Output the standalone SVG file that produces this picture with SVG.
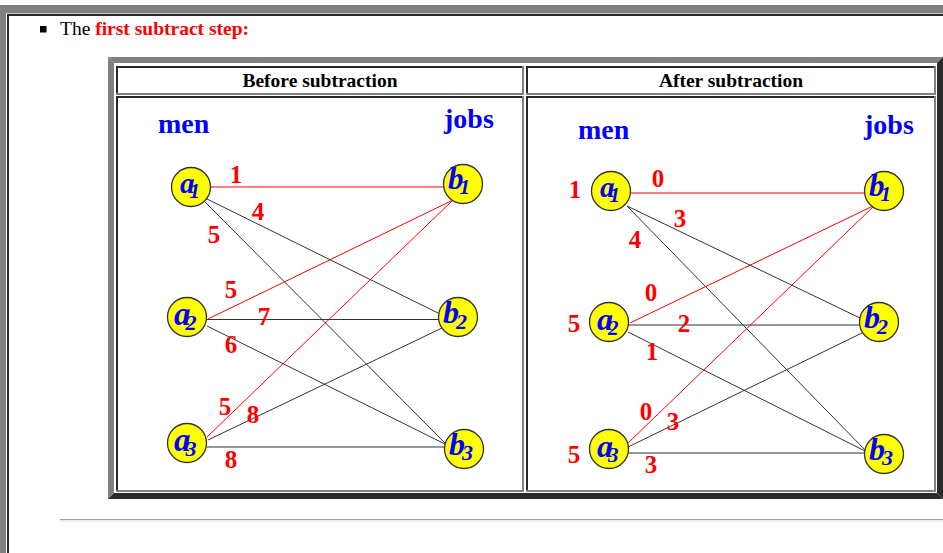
<svg xmlns="http://www.w3.org/2000/svg" width="943" height="553" viewBox="0 0 943 553">
  <style>
    .lite { fill: #808080; }
    .dark { fill: #2a2a2a; }
    .hdr { font-family: "Liberation Serif", "Times New Roman", serif; font-weight: bold; font-size: 19.5px; fill: #000; text-anchor: middle; }
    .cap { font-family: "Liberation Serif", "Times New Roman", serif; font-weight: bold; font-size: 28px; fill: #0000ff; }
    .w { font-family: "Liberation Serif", "Times New Roman", serif; font-weight: bold; font-size: 25px; fill: #ff0000; text-anchor: middle; }
    .node circle { fill: #ffff00; stroke: #333; stroke-width: 1.3; }
    .node text { font-family: "Liberation Serif", "Times New Roman", serif; font-weight: bold; font-style: italic; fill: #0000ff; }
    .blk { stroke: #333; stroke-width: 1; fill: none; }
    .red { stroke: #ff0000; stroke-width: 1; fill: none; }
  </style>

  <rect width="943" height="553" fill="#fff"/>

  <!-- page frame -->
  <rect class="lite" x="0" y="5" width="943" height="8"/>
  <rect class="lite" x="0" y="5" width="6" height="548"/>
  <rect x="6" y="13" width="937" height="1" fill="#c8c8c8"/>
  <rect class="dark" x="7" y="14" width="936" height="2"/>
  <rect class="dark" x="7" y="14" width="2" height="539"/>

  <!-- bullet line -->
  <rect x="40" y="26" width="6.5" height="6.5" fill="#000"/>
  <text x="60" y="35" font-family="'Liberation Serif', 'Times New Roman', serif" font-size="19.5" fill="#000">The <tspan font-weight="bold" fill="#ff0000">first subtract step:</tspan></text>

  <!-- outer table border (outset) -->
  <polygon class="lite" points="108,57 943,57 937,63 114,63"/>
  <polygon class="lite" points="108,57 114,63 114,493 108,499"/>
  <polygon class="dark" points="108,499 114,493 937,493 943,499"/>
  <polygon class="dark" points="943,57 937,63 937,493 943,499"/>

  <!-- cells (inset) -->
  <g id="cells">
    <rect class="dark" x="116" y="66" width="408" height="2"/>
    <rect class="dark" x="116" y="66" width="2" height="29"/>
    <rect class="lite" x="116" y="93" width="408" height="2"/>
    <rect class="lite" x="522" y="66" width="2" height="29"/>

    <rect class="dark" x="526" y="66" width="410" height="2"/>
    <rect class="dark" x="526" y="66" width="2" height="29"/>
    <rect class="lite" x="526" y="93" width="410" height="2"/>
    <rect class="lite" x="934" y="66" width="2" height="29"/>

    <rect class="dark" x="116" y="96" width="408" height="2"/>
    <rect class="dark" x="116" y="96" width="2" height="396"/>
    <rect class="lite" x="116" y="490" width="408" height="2"/>
    <rect class="lite" x="522" y="96" width="2" height="396"/>

    <rect class="dark" x="526" y="96" width="410" height="2"/>
    <rect class="dark" x="526" y="96" width="2" height="396"/>
    <rect class="lite" x="526" y="490" width="410" height="2"/>
    <rect class="lite" x="934" y="96" width="2" height="396"/>
  </g>

  <text class="hdr" x="320" y="87">Before subtraction</text>
  <text class="hdr" x="731" y="87">After subtraction</text>

  <!-- column captions -->
  <text class="cap" x="158" y="133">men</text>
  <text class="cap" x="444" y="128">jobs</text>
  <text class="cap" x="578" y="139">men</text>
  <text class="cap" x="864" y="134">jobs</text>

  <!-- connectors -->
  <g id="connectors">
    <line class="red" x1="208" y1="187" x2="445" y2="187"/>
    <line class="blk" x1="205" y1="198" x2="438" y2="313"/>
    <line class="blk" x1="205" y1="202" x2="447" y2="445"/>
    <line class="red" x1="208" y1="319" x2="453" y2="200"/>
    <line class="blk" x1="207" y1="319.5" x2="440" y2="319.5"/>
    <line class="blk" x1="207" y1="326" x2="447" y2="445"/>
    <line class="red" x1="207" y1="437" x2="453" y2="200"/>
    <line class="blk" x1="208" y1="440" x2="442" y2="328"/>
    <line class="blk" x1="207" y1="447" x2="445" y2="447"/>

    <line class="red" x1="628" y1="193" x2="865" y2="193"/>
    <line class="blk" x1="627" y1="206" x2="860" y2="318"/>
    <line class="blk" x1="627" y1="206" x2="867" y2="452"/>
    <line class="red" x1="630" y1="323" x2="875" y2="205"/>
    <line class="blk" x1="628" y1="325" x2="860" y2="325"/>
    <line class="blk" x1="628" y1="332" x2="867" y2="452"/>
    <line class="red" x1="628" y1="443" x2="875" y2="205"/>
    <line class="blk" x1="628" y1="447" x2="862" y2="333"/>
    <line class="blk" x1="628" y1="453" x2="865" y2="453"/>
  </g>

  <!-- edge weights -->
  <g id="weights-before">
    <text class="w" x="236" y="183">1</text>
    <text class="w" x="258" y="220">4</text>
    <text class="w" x="214" y="243">5</text>
    <text class="w" x="231" y="298">5</text>
    <text class="w" x="264" y="325">7</text>
    <text class="w" x="231" y="353">6</text>
    <text class="w" x="225" y="415">5</text>
    <text class="w" x="253" y="423">8</text>
    <text class="w" x="231" y="468">8</text>
  </g>
  <g id="weights-after">
    <text class="w" x="575" y="198">1</text>
    <text class="w" x="658" y="187">0</text>
    <text class="w" x="680" y="227">3</text>
    <text class="w" x="635" y="248">4</text>
    <text class="w" x="651" y="301">0</text>
    <text class="w" x="574" y="332">5</text>
    <text class="w" x="684" y="332">2</text>
    <text class="w" x="652" y="360">1</text>
    <text class="w" x="646" y="420">0</text>
    <text class="w" x="673" y="430">3</text>
    <text class="w" x="574" y="463">5</text>
    <text class="w" x="651" y="473">3</text>
  </g>

  <!-- nodes: before -->
  <g id="L-a1" class="node"><circle cx="191" cy="187" r="19.5"/><text x="180" y="193" font-size="29">a<tspan dx="-5" dy="5" font-size="21">1</tspan></text></g>
  <g id="L-a2" class="node"><circle cx="187" cy="317" r="19.5"/><text x="174" y="325" font-size="33">a<tspan dx="-5" dy="5" font-size="22">2</tspan></text></g>
  <g id="L-a3" class="node"><circle cx="187" cy="443" r="19.5"/><text x="174" y="451" font-size="33">a<tspan dx="-5" dy="5" font-size="22">3</tspan></text></g>
  <g id="L-b1" class="node"><circle cx="463" cy="184" r="19.5"/><text x="448" y="189" font-size="31">b<tspan dx="-4" dy="5" font-size="21">1</tspan></text></g>
  <g id="L-b2" class="node"><circle cx="458" cy="317" r="19.5"/><text x="443" y="323" font-size="32">b<tspan dx="-3" dy="6" font-size="22">2</tspan></text></g>
  <g id="L-b3" class="node"><circle cx="464" cy="449" r="19.5"/><text x="449" y="455" font-size="32">b<tspan dx="-3" dy="5" font-size="22">3</tspan></text></g>

  <!-- nodes: after -->
  <g id="R-a1" class="node"><circle cx="611" cy="191" r="19.5"/><text x="600" y="197" font-size="29">a<tspan dx="-5" dy="5" font-size="21">1</tspan></text></g>
  <g id="R-a2" class="node"><circle cx="609" cy="322" r="19.5"/><text x="597" y="330" font-size="32">a<tspan dx="-5" dy="5" font-size="21">2</tspan></text></g>
  <g id="R-a3" class="node"><circle cx="609" cy="449" r="19.5"/><text x="597" y="457" font-size="32">a<tspan dx="-5" dy="5" font-size="21">3</tspan></text></g>
  <g id="R-b1" class="node"><circle cx="884" cy="191" r="19.5"/><text x="869" y="196" font-size="31">b<tspan dx="-4" dy="5" font-size="21">1</tspan></text></g>
  <g id="R-b2" class="node"><circle cx="879" cy="322" r="19.5"/><text x="864" y="328" font-size="32">b<tspan dx="-3" dy="6" font-size="22">2</tspan></text></g>
  <g id="R-b3" class="node"><circle cx="884" cy="454" r="19.5"/><text x="869" y="460" font-size="32">b<tspan dx="-3" dy="5" font-size="22">3</tspan></text></g>

  <!-- horizontal rule -->
  <rect x="60" y="519" width="883" height="1" fill="#a0a0a0"/>
  <rect x="60" y="520" width="883" height="2" fill="#ececec"/>
</svg>
